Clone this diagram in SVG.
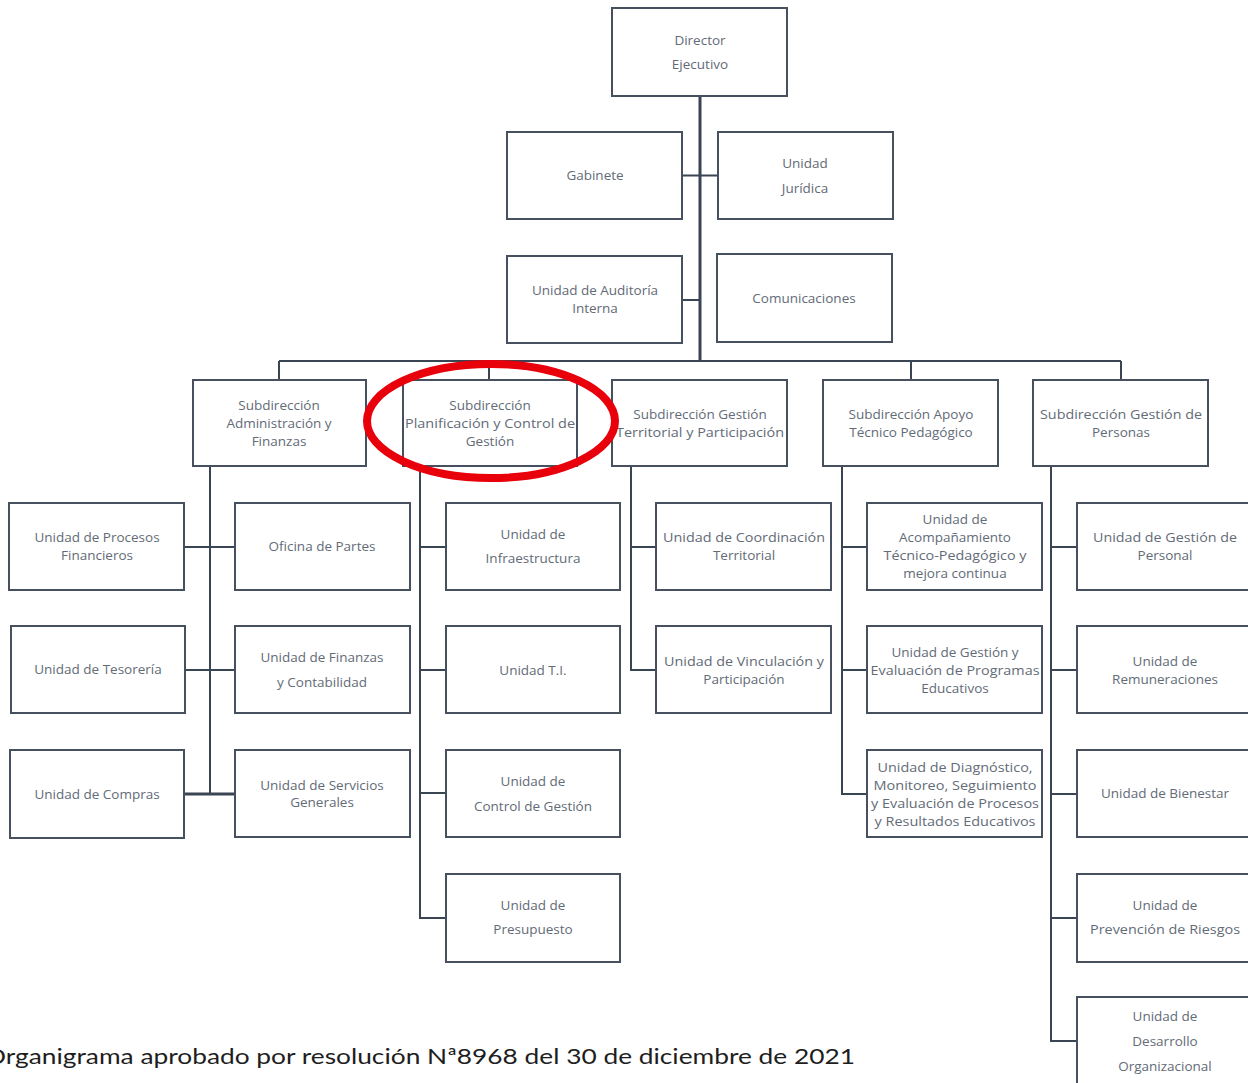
<svg xmlns="http://www.w3.org/2000/svg" width="1248" height="1083" viewBox="0 0 1248 1083">
<style>
.b{fill:#fff;stroke:#46505e;stroke-width:2}
.t{font-family:"Open Sans","Liberation Sans",sans-serif;font-size:13.5px;fill:#636b77;text-anchor:middle}
.c{stroke:#3a4554;stroke-width:2;fill:none}
.m{stroke:#3a4554;stroke-width:3;fill:none}
.cap{font-family:"Lato","Liberation Sans",sans-serif;font-size:22px;font-weight:400;fill:#1e1e1e}
</style>
<rect width="1248" height="1083" fill="#fff"/>
<g id="connectors">
<path class="m" d="M700 96V362"/>
<path class="c" d="M682 175.5H718M682 300H700M279 361H1121M279 361V380M489 361V380M911 361V380M1121 361V380"/>
<path class="c" d="M210 466V794M184 547H235M185 670H235"/>
<path class="m" d="M184 794H235"/>
<path class="c" d="M420 466V918H446M420 547H446M420 670H446M420 793H446"/>
<path class="c" d="M631 466V670H656M631 547H656"/>
<path class="c" d="M842 466V794H867M842 547H867M842 670H867"/>
<path class="c" d="M1051 466V1041H1077M1051 547H1077M1051 670H1077M1051 794H1077M1051 918H1077"/>
</g>
<g id="director"><rect class="b" x="612" y="8" width="175" height="88"/><text class="t" x="700" y="45">Director</text><text class="t" x="700" y="69">Ejecutivo</text></g>
<g id="gabinete"><rect class="b" x="507" y="132" width="175" height="87"/><text class="t" x="595" y="180">Gabinete</text></g>
<g id="juridica"><rect class="b" x="718" y="132" width="175" height="87"/><text class="t" x="805" y="168">Unidad</text><text class="t" x="805" y="193">Jurídica</text></g>
<g id="auditoria"><rect class="b" x="507" y="256" width="175" height="87"/><text class="t" x="595" y="295">Unidad de Auditoría</text><text class="t" x="595" y="313">Interna</text></g>
<g id="comunicaciones"><rect class="b" x="717" y="254" width="175" height="88"/><text class="t" x="804" y="303">Comunicaciones</text></g>
<g id="sub-admin"><rect class="b" x="193" y="380" width="173" height="86"/><text class="t" x="279" y="410">Subdirección</text><text class="t" x="279" y="428">Administración y</text><text class="t" x="279" y="446">Finanzas</text></g>
<g id="sub-plan"><rect class="b" x="403" y="380" width="174" height="86"/><text class="t" x="490" y="410">Subdirección</text><text class="t" x="490" y="428" textLength="170" lengthAdjust="spacingAndGlyphs">Planificación y Control de</text><text class="t" x="490" y="446">Gestión</text></g>
<g id="sub-territorial"><rect class="b" x="612" y="380" width="175" height="86"/><text class="t" x="700" y="419">Subdirección Gestión</text><text class="t" x="700" y="437" textLength="168" lengthAdjust="spacingAndGlyphs">Territorial y Participación</text></g>
<g id="sub-apoyo"><rect class="b" x="823" y="380" width="175" height="86"/><text class="t" x="911" y="419">Subdirección Apoyo</text><text class="t" x="911" y="437">Técnico Pedagógico</text></g>
<g id="sub-personas"><rect class="b" x="1033" y="380" width="175" height="86"/><text class="t" x="1121" y="419" textLength="162" lengthAdjust="spacingAndGlyphs">Subdirección Gestión de</text><text class="t" x="1121" y="437">Personas</text></g>
<g id="procesos"><rect class="b" x="9" y="503" width="175" height="87"/><text class="t" x="97" y="542">Unidad de Procesos</text><text class="t" x="97" y="560">Financieros</text></g>
<g id="oficina"><rect class="b" x="235" y="503" width="175" height="87"/><text class="t" x="322" y="551">Oficina de Partes</text></g>
<g id="tesoreria"><rect class="b" x="11" y="626" width="174" height="87"/><text class="t" x="98" y="674">Unidad de Tesorería</text></g>
<g id="finanzas"><rect class="b" x="235" y="626" width="175" height="87"/><text class="t" x="322" y="662">Unidad de Finanzas</text><text class="t" x="322" y="687">y Contabilidad</text></g>
<g id="compras"><rect class="b" x="10" y="750" width="174" height="88"/><text class="t" x="97" y="799">Unidad de Compras</text></g>
<g id="servicios"><rect class="b" x="235" y="750" width="175" height="87"/><text class="t" x="322" y="790">Unidad de Servicios</text><text class="t" x="322" y="807">Generales</text></g>
<g id="infraestructura"><rect class="b" x="446" y="503" width="174" height="87"/><text class="t" x="533" y="539">Unidad de</text><text class="t" x="533" y="563">Infraestructura</text></g>
<g id="ti"><rect class="b" x="446" y="626" width="174" height="87"/><text class="t" x="533" y="675">Unidad T.I.</text></g>
<g id="control"><rect class="b" x="446" y="750" width="174" height="87"/><text class="t" x="533" y="786">Unidad de</text><text class="t" x="533" y="811">Control de Gestión</text></g>
<g id="presupuesto"><rect class="b" x="446" y="874" width="174" height="88"/><text class="t" x="533" y="910">Unidad de</text><text class="t" x="533" y="934">Presupuesto</text></g>
<g id="coordinacion"><rect class="b" x="656" y="503" width="175" height="87"/><text class="t" x="744" y="542" textLength="162" lengthAdjust="spacingAndGlyphs">Unidad de Coordinación</text><text class="t" x="744" y="560">Territorial</text></g>
<g id="vinculacion"><rect class="b" x="656" y="626" width="175" height="87"/><text class="t" x="744" y="666" textLength="160" lengthAdjust="spacingAndGlyphs">Unidad de Vinculación y</text><text class="t" x="744" y="684">Participación</text></g>
<g id="acompanamiento"><rect class="b" x="867" y="503" width="175" height="87"/><text class="t" x="955" y="524">Unidad de</text><text class="t" x="955" y="542">Acompañamiento</text><text class="t" x="955" y="560" textLength="143" lengthAdjust="spacingAndGlyphs">Técnico-Pedagógico y</text><text class="t" x="955" y="578">mejora continua</text></g>
<g id="programas"><rect class="b" x="867" y="626" width="175" height="87"/><text class="t" x="955" y="657">Unidad de Gestión y</text><text class="t" x="955" y="675" textLength="169" lengthAdjust="spacingAndGlyphs">Evaluación de Programas</text><text class="t" x="955" y="693">Educativos</text></g>
<g id="diagnostico"><rect class="b" x="867" y="750" width="175" height="87"/><text class="t" x="955" y="772" textLength="155" lengthAdjust="spacingAndGlyphs">Unidad de Diagnóstico,</text><text class="t" x="955" y="790" textLength="163" lengthAdjust="spacingAndGlyphs">Monitoreo, Seguimiento</text><text class="t" x="955" y="808" textLength="168" lengthAdjust="spacingAndGlyphs">y Evaluación de Procesos</text><text class="t" x="955" y="826" textLength="161" lengthAdjust="spacingAndGlyphs">y Resultados Educativos</text></g>
<g id="gestion-personal"><rect class="b" x="1077" y="503" width="175" height="87"/><text class="t" x="1165" y="542" textLength="144" lengthAdjust="spacingAndGlyphs">Unidad de Gestión de</text><text class="t" x="1165" y="560">Personal</text></g>
<g id="remuneraciones"><rect class="b" x="1077" y="626" width="175" height="87"/><text class="t" x="1165" y="666">Unidad de</text><text class="t" x="1165" y="684">Remuneraciones</text></g>
<g id="bienestar"><rect class="b" x="1077" y="750" width="175" height="87"/><text class="t" x="1165" y="798">Unidad de Bienestar</text></g>
<g id="prevencion"><rect class="b" x="1077" y="874" width="175" height="88"/><text class="t" x="1165" y="910">Unidad de</text><text class="t" x="1165" y="934" textLength="150" lengthAdjust="spacingAndGlyphs">Prevención de Riesgos</text></g>
<g id="desarrollo"><rect class="b" x="1077" y="997" width="175" height="100"/><text class="t" x="1165" y="1021">Unidad  de</text><text class="t" x="1165" y="1046">Desarrollo</text><text class="t" x="1165" y="1071">Organizacional</text></g>
<ellipse cx="491" cy="421" rx="124" ry="57" fill="none" stroke="#e8000b" stroke-width="8"/>
<text class="cap" x="-15" y="1064" textLength="870" lengthAdjust="spacingAndGlyphs">Organigrama aprobado por resolución Nª8968 del 30 de diciembre de 2021</text>
</svg>
